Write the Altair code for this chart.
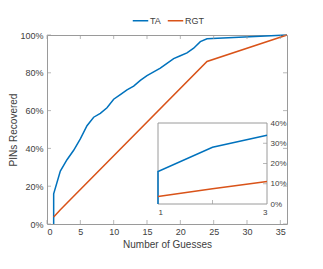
import altair as alt
import pandas as pd

# ---- data ----
ta_guesses = [1, 1, 2, 3, 4, 5, 6, 7, 8, 9, 10, 11, 12, 13, 14, 15, 16, 17, 18, 19, 20, 21, 22, 23, 24, 36]
ta_values = [0, 16, 28, 34, 39, 45, 52, 56.5, 58.5, 61.5, 66, 68.5, 71, 73, 76, 78.5, 80.5, 82.5, 85, 87.5, 89, 90.5, 93, 96.5, 98, 100]
rgt_guesses = [1, 2, 3, 24, 36]
rgt_values = [3.7, 7.5, 11.1, 86, 100]

series_names = ["TA", "RGT"]
series_colors = ["#0072BD", "#D95319"]

x_ticks = [0, 5, 10, 15, 20, 25, 30, 35]
x_domain = [0, 36]
y_ticks = [0, 0.2, 0.4, 0.6, 0.8, 1.0]
y_domain = [0, 1]

inset_x_ticks = [1, 2, 3]
inset_x_domain = [1, 3]
inset_y_ticks = [0, 0.1, 0.2, 0.3, 0.4]
inset_y_domain = [0, 0.4]

rows = []
for i, (g, v) in enumerate(zip(ta_guesses, ta_values)):
    rows.append({"series": "TA", "guess": g, "rate": v / 100, "idx": i})
for i, (g, v) in enumerate(zip(rgt_guesses, rgt_values)):
    rows.append({"series": "RGT", "guess": g, "rate": v / 100, "idx": i})
df = pd.DataFrame(rows)

FONT = "Liberation Sans"
TXT = "#404040"
FRAME = "#9a9a9a"

W, H = 240, 189

color = alt.Color(
    "series:N",
    scale=alt.Scale(domain=series_names, range=series_colors),
    legend=alt.Legend(
        orient="none", legendX=85, legendY=-23, direction="horizontal", title=None,
        symbolType="stroke", symbolStrokeWidth=1.5, symbolSize=240,
        labelFontSize=9, labelFont=FONT, labelColor=TXT, columnPadding=3, labelOffset=1,
    ),
)

main_x = alt.Scale(domain=x_domain, nice=False, zero=False)
main_y = alt.Scale(domain=y_domain, nice=False)
main_x_axis = alt.Axis(values=x_ticks, title="Number of Guesses", labelFontSize=9, titleFontSize=10,
                       labelPadding=3, titlePadding=3, labelOverlap=False, format="d")
main_y_axis = alt.Axis(values=y_ticks, format=".0%", title="PINs Recovered", labelFontSize=9,
                       titleFontSize=10, labelPadding=4, titlePadding=1, labelOverlap=False)

main_lines = alt.Chart(df).mark_line(strokeWidth=1.5).encode(
    x=alt.X("guess:Q", scale=main_x, axis=main_x_axis),
    y=alt.Y("rate:Q", scale=main_y, axis=main_y_axis),
    color=color,
    order="idx:Q",
)

xt = pd.DataFrame({"guess": x_ticks, "rate_lo": y_domain[0], "rate_hi": y_domain[1]})
yt = pd.DataFrame({"rate": y_ticks, "guess_lo": x_domain[0], "guess_hi": x_domain[1]})
tick_bottom = alt.Chart(xt).mark_tick(orient="vertical", size=4, thickness=1, yOffset=-2, color=FRAME).encode(
    x=alt.X("guess:Q", scale=main_x, axis=main_x_axis), y=alt.Y("rate_lo:Q", scale=main_y, axis=main_y_axis))
tick_top = alt.Chart(xt).mark_tick(orient="vertical", size=4, thickness=1, yOffset=2, color=FRAME).encode(
    x=alt.X("guess:Q", scale=main_x, axis=main_x_axis), y=alt.Y("rate_hi:Q", scale=main_y, axis=main_y_axis))
tick_left = alt.Chart(yt).mark_tick(orient="horizontal", size=4, thickness=1, xOffset=2, color=FRAME).encode(
    y=alt.Y("rate:Q", scale=main_y, axis=main_y_axis), x=alt.X("guess_lo:Q", scale=main_x, axis=main_x_axis))
tick_right = alt.Chart(yt).mark_tick(orient="horizontal", size=4, thickness=1, xOffset=-2, color=FRAME).encode(
    y=alt.Y("rate:Q", scale=main_y, axis=main_y_axis), x=alt.X("guess_hi:Q", scale=main_x, axis=main_x_axis))

main = alt.layer(main_lines, tick_bottom, tick_top, tick_left, tick_right)

# ---- inset ----
inset_x = alt.Scale(domain=inset_x_domain, range=[111, 220], nice=False, zero=False)
inset_y = alt.Scale(domain=inset_y_domain, range=[169, 88], nice=False)
inset_x_axis = alt.Axis(values=inset_x_ticks, title=None, orient="bottom", offset=-20, labelFontSize=8,
                        labelPadding=4, format="d", labelOverlap=False)
inset_y_axis = alt.Axis(values=inset_y_ticks, title=None, orient="right", offset=-20, labelFontSize=8,
                        labelPadding=3, format=".0%", labelOverlap=False)

box_df = pd.DataFrame({"guess": [inset_x_domain[0]], "guess2": [inset_x_domain[1]],
                       "rate": [inset_y_domain[0]], "rate2": [inset_y_domain[1]]})
box = alt.Chart(box_df).mark_rect(fill="white", stroke=FRAME, strokeWidth=1).encode(
    x=alt.X("guess:Q", scale=inset_x, axis=inset_x_axis),
    x2="guess2:Q",
    y=alt.Y("rate:Q", scale=inset_y, axis=inset_y_axis),
    y2="rate2:Q",
)

inset_lines = alt.Chart(df).transform_filter(
    f"datum.guess <= {inset_x_domain[1]}"
).mark_line(strokeWidth=1.5).encode(
    x=alt.X("guess:Q", scale=inset_x, axis=inset_x_axis),
    y=alt.Y("rate:Q", scale=inset_y, axis=inset_y_axis),
    color=color,
    order="idx:Q",
)

ixt = pd.DataFrame({"guess": inset_x_ticks[1:-1], "rate": inset_y_domain[0]})
iyt = pd.DataFrame({"rate": inset_y_ticks[1:-1], "guess": inset_x_domain[1]})
itick_bottom = alt.Chart(ixt).mark_tick(orient="vertical", size=4, thickness=1, yOffset=-2, color=FRAME).encode(
    x=alt.X("guess:Q", scale=inset_x, axis=inset_x_axis), y=alt.Y("rate:Q", scale=inset_y, axis=inset_y_axis))
itick_right = alt.Chart(iyt).mark_tick(orient="horizontal", size=4, thickness=1, xOffset=-2, color=FRAME).encode(
    y=alt.Y("rate:Q", scale=inset_y, axis=inset_y_axis), x=alt.X("guess:Q", scale=inset_x, axis=inset_x_axis))

inset = alt.layer(box, inset_lines, itick_bottom, itick_right)

chart = alt.layer(main, inset).resolve_scale(
    x="independent", y="independent"
).properties(
    width=W, height=H,
    autosize=alt.AutoSizeParams(type="none"),
    padding={"left": 39, "top": 27, "right": 20, "bottom": 37},
).configure_view(
    stroke=FRAME, strokeWidth=1
).configure_axis(
    labelFont=FONT, titleFont=FONT, labelColor=TXT, titleColor=TXT,
    domain=False, grid=False, ticks=False, titleFontWeight="normal", labelOverlap=False,
)

chart.save("out.html", embed_options={"renderer": "svg", "actions": False})
